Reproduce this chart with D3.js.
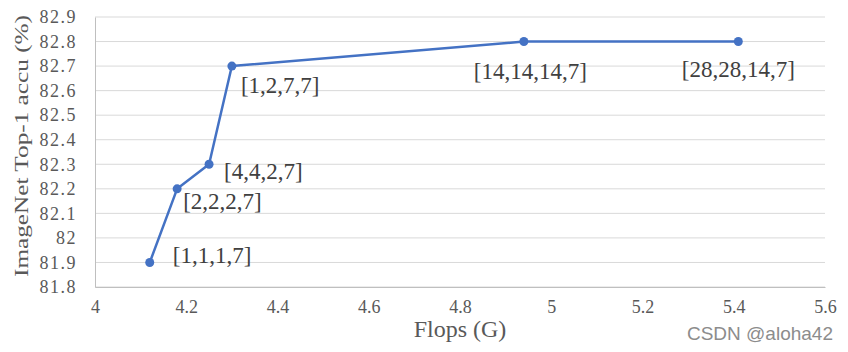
<!DOCTYPE html>
<html>
<head>
<meta charset="utf-8">
<script src="https://cdn.jsdelivr.net/npm/d3@7"></script>
<style>
  body { margin: 0; background: #fff; }
  svg { display: block; }
</style>
</head>
<body>
<svg id="chart"></svg>
<script>
// data
const flops = [4.12, 4.18, 4.25, 4.30, 4.94, 5.41];
const accu = [81.9, 82.2, 82.3, 82.7, 82.8, 82.8];
const configs = ['[1,1,1,7]', '[2,2,2,7]', '[4,4,2,7]', '[1,2,7,7]', '[14,14,14,7]', '[28,28,14,7]'];
const xTicks = [4, 4.2, 4.4, 4.6, 4.8, 5, 5.2, 5.4, 5.6];
const yTicks = [81.8, 81.9, 82, 82.1, 82.2, 82.3, 82.4, 82.5, 82.6, 82.7, 82.8, 82.9];

// label offsets relative to each point (dx, dy, anchor)
const labelPos = [
  { dx: 23, dy: -5, anchor: 'start' },
  { dx: 6, dy: 15, anchor: 'start' },
  { dx: 15, dy: 9, anchor: 'start' },
  { dx: 9, dy: 22, anchor: 'start' },
  { dx: 6.5, dy: 32, anchor: 'middle' },
  { dx: 0, dy: 30, anchor: 'middle' },
];

const serif = '"Liberation Serif", "Times New Roman", serif';

const config = {
  width: 848, height: 352,
  margin: { top: 17, right: 23, bottom: 65, left: 95 },
};

const svg = d3.select('#chart')
  .attr('width', config.width)
  .attr('height', config.height);

const width = config.width - config.margin.left - config.margin.right;
const height = config.height - config.margin.top - config.margin.bottom;

const xScale = d3.scaleLinear().domain([4, 5.6]).range([0, width]);
const yScale = d3.scaleLinear().domain([81.8, 82.9]).range([height, 0]);

const chart = svg.append('g')
  .attr('transform', `translate(${config.margin.left},${config.margin.top})`);

// gridlines
chart.append('g')
  .selectAll('line')
  .data(yTicks)
  .join('line')
  .attr('x1', 0)
  .attr('x2', width)
  .attr('y1', (d) => yScale(d))
  .attr('y2', (d) => yScale(d))
  .attr('stroke', '#d9d9d9')
  .attr('stroke-width', 1);

const xAxis = d3.axisBottom(xScale)
  .tickValues(xTicks)
  .tickFormat((d) => String(+d.toFixed(1)))
  .tickSize(0)
  .tickPadding(13);

const yAxis = d3.axisLeft(yScale)
  .tickValues(yTicks)
  .tickFormat((d) => String(+d.toFixed(1)))
  .tickSize(0)
  .tickPadding(18);

chart.append('g')
  .attr('transform', `translate(0,${height})`)
  .call(xAxis)
  .attr('font-family', serif)
  .call((g) => g.select('.domain').attr('stroke', '#bfbfbf'))
  .selectAll('text')
  .style('font-size', '18px')
  .style('fill', '#595959');

chart.append('g')
  .call(yAxis)
  .attr('font-family', serif)
  .call((g) => g.select('.domain').attr('stroke', '#bfbfbf'))
  .selectAll('text')
  .style('font-size', '18px')
  .style('letter-spacing', '1.5px')
  .style('fill', '#595959');

// line
const line = d3.line()
  .x((d, i) => xScale(flops[i]))
  .y((d) => yScale(d));

chart.append('path')
  .datum(accu)
  .attr('d', line)
  .attr('fill', 'none')
  .attr('stroke', '#4472c4')
  .attr('stroke-width', 2.5)
  .attr('stroke-linejoin', 'round');

chart.append('g')
  .selectAll('circle')
  .data(accu)
  .join('circle')
  .attr('cx', (d, i) => xScale(flops[i]))
  .attr('cy', (d) => yScale(d))
  .attr('r', 4.5)
  .attr('fill', '#4472c4');

// data labels
chart.append('g')
  .selectAll('text')
  .data(configs)
  .join('text')
  .attr('x', (d, i) => xScale(flops[i]) + labelPos[i].dx)
  .attr('y', (d, i) => yScale(accu[i]) + labelPos[i].dy)
  .attr('text-anchor', (d, i) => labelPos[i].anchor)
  .attr('dominant-baseline', 'middle')
  .style('font-family', serif)
  .style('font-size', '23px')
  .style('fill', '#404040')
  .text((d) => d);

// axis titles
svg.append('text')
  .attr('x', 460)
  .attr('y', 337)
  .attr('text-anchor', 'middle')
  .style('font-family', serif)
  .style('font-size', '24px')
  .style('fill', '#595959')
  .text('Flops (G)');

svg.append('text')
  .attr('transform', 'translate(28,146) rotate(-90)')
  .attr('x', -131)
  .attr('textLength', 262)
  .attr('lengthAdjust', 'spacingAndGlyphs')
  .style('font-family', serif)
  .style('font-size', '19px')
  .style('fill', '#595959')
  .text('ImageNet  Top-1 accu (%)');

// watermark
svg.append('text')
  .attr('x', 833)
  .attr('y', 340)
  .attr('text-anchor', 'end')
  .style('font-family', '"Liberation Sans", Arial, sans-serif')
  .style('font-size', '19px')
  .style('fill', '#8c8c8c')
  .text('CSDN @aloha42');
</script>
</body>
</html>
